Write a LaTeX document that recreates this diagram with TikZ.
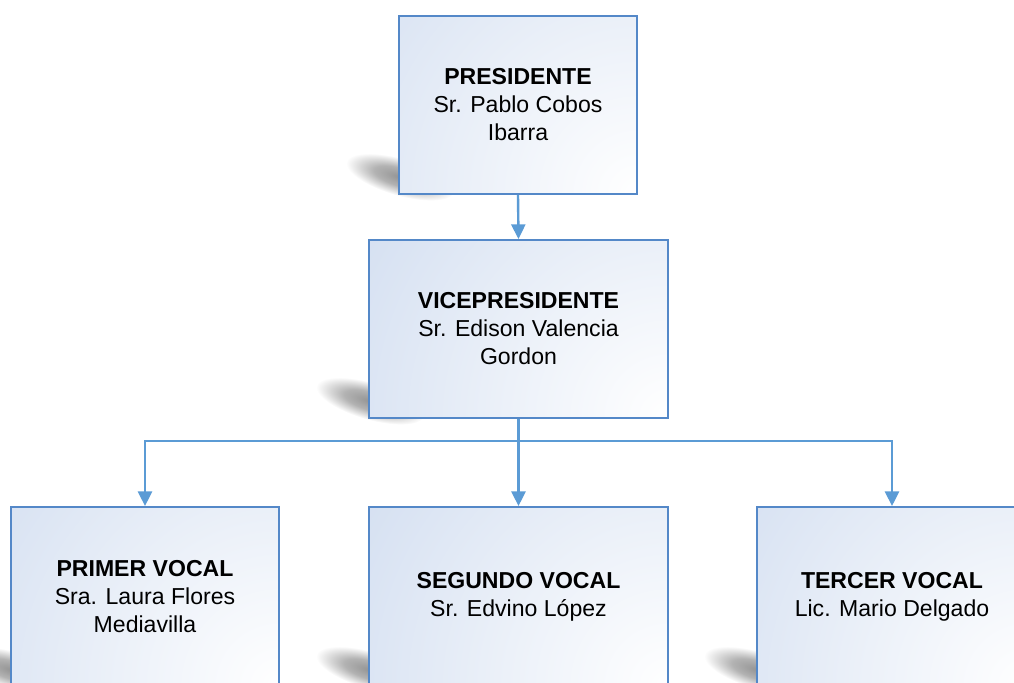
\documentclass[tikz,border=0pt]{standalone}
\usepackage{fontspec}
\setmainfont{Liberation Sans}
\usetikzlibrary{arrows.meta}
\definecolor{boxborder}{RGB}{84,136,200}
\definecolor{boxfill}{RGB}{194,210,235}
\definecolor{conncol}{RGB}{91,155,213}
\pgfdeclareradialshading{shblob}{\pgfpoint{0bp}{0bp}}{color(0bp)=(black!42); color(12bp)=(black!30); color(25bp)=(white); color(50bp)=(white)}
\pgfdeclarelayer{background}
\pgfsetlayers{background,main}
\tikzset{
  orgbox/.style={rectangle, draw=boxborder, line width=1.4pt, align=center,
    font=\fontsize{17.3}{21}\selectfont, text=black, inner sep=0pt,
    path picture={\shade[inner color=white, outer color=boxfill]
      (path picture bounding box.south east) circle (390pt);}},
  conn/.style={draw=conncol, line width=1.8pt, -{Triangle[length=11pt,width=10.5pt]}},
  bar/.style={draw=conncol, line width=1.8pt},
  shadowblob/.style={shading=shblob},
}
\newcommand\orgshadow[2]{%
  \begin{scope}[shift={(#1)}]
    \coordinate (#2) at (2,-18);
  \end{scope}
  \shade[shadowblob, transform canvas={shift={(#2)}, rotate=-16}]
    (0,0) ellipse (42pt and 14pt);}
\begin{document}
\begin{tikzpicture}[x=0.75pt, y=-0.75pt]
  \useasboundingbox (0,0) rectangle (1014,682);
  % boxes
  \node[orgbox, minimum width=178.5pt, minimum height=133.5pt] (pres) at (518,105)
    {\textbf{PRESIDENTE}\\Sr. Pablo Cobos\\Ibarra};
  \node[orgbox, minimum width=224.25pt, minimum height=133.5pt] (vice) at (518.5,329)
    {\textbf{VICEPRESIDENTE}\\Sr. Edison Valencia\\Gordon};
  \node[orgbox, minimum width=201pt, minimum height=135pt] (v1) at (145,597)
    {\textbf{PRIMER VOCAL}\\Sra. Laura Flores\\Mediavilla};
  \node[orgbox, minimum width=224.25pt, minimum height=135pt] (v2) at (518.5,597)
    {\textbf{SEGUNDO VOCAL}\\Sr. Edvino López};
  \node[orgbox, minimum width=202.5pt, minimum height=135pt] (v3) at (892,597)
    {\textbf{TERCER VOCAL}\\Lic. Mario Delgado};
  % shadows
  \begin{pgfonlayer}{background}
    \orgshadow{pres.south west}{s0}
    \orgshadow{vice.south west}{s1}
    \orgshadow{v1.south west}{s2}
    \orgshadow{v2.south west}{s3}
    \orgshadow{v3.south west}{s4}
  \end{pgfonlayer}
  % connectors
  \coordinate (j) at (vice.south |- 0,441);
  \draw[conn] (pres.south) -- (vice.north);
  \draw[conn] (vice.south) -- (v2.north);
  \draw[bar] (v1.north |- j) -- (v3.north |- j);
  \draw[conn] (j) -| (v1.north);
  \draw[conn] (j) -| (v3.north);
\end{tikzpicture}
\end{document}
